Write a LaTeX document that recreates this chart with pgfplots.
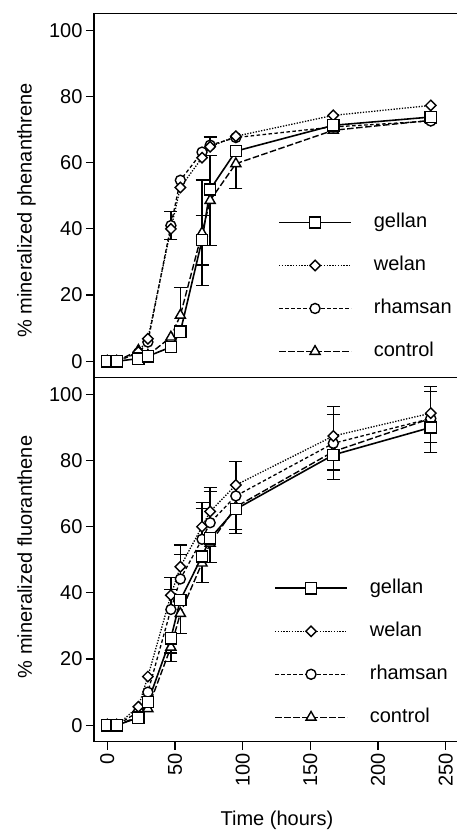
\documentclass[border=0pt]{standalone}
\usepackage{pgfplots}
\pgfplotsset{compat=1.18}
\usepackage{pgfplotstable}
\usepackage{fontspec}
\setmainfont{Liberation Sans}

% phenanthrene (top panel)
\pgfplotstableread{
t y
0 0
7 0
23 0.8
30 1.5
47 4.3
54 8.9
70 36.6
76 51.9
95 63.5
167 71.3
239 73.8
}\phgellan
\pgfplotstableread{
t y
0 0
7 0
23 2.8
30 6.8
47 40.0
54 52.5
70 61.5
76 64.8
95 68.0
167 74.3
239 77.3
}\phwelan
\pgfplotstableread{
t y
0 0
7 0
23 2.5
30 5.8
47 41.0
54 54.7
70 63.2
76 65.3
95 67.6
167 70.8
239 72.6
}\phrhamsan
\pgfplotstableread{
t y
0 0
7 0
23 3.3
30 1.8
47 7.3
54 13.9
70 38.8
76 48.6
95 59.7
167 69.8
239 72.8
}\phcontrol
\pgfplotstableread{
t y e
47 41.0 4.2
54 13.9 8.4
70 36.6 7.5
70 38.8 16
76 51.9 10.3
76 65.3 2.5
}\pherrup
\pgfplotstableread{
t y e
47 41.0 4.2
70 36.6 7.5
70 38.8 16
76 48.6 13.6
95 59.7 7.5
}\pherrdown

% fluoranthene (bottom panel)
\pgfplotstableread{
t y
0 0
7 0
23 2.3
30 7.0
47 26.3
54 37.9
70 51.0
76 56.5
95 65.3
167 81.7
239 90.0
}\flgellan
\pgfplotstableread{
t y
0 0
7 0
23 5.6
30 14.7
47 39.3
54 47.9
70 60.0
76 64.6
95 72.6
167 87.4
239 94.3
}\flwelan
\pgfplotstableread{
t y
0 0
7 0
23 4.1
30 10.0
47 35.0
54 44.2
70 56.2
76 61.2
95 69.3
167 85.2
239 92.7
}\flrhamsan
\pgfplotstableread{
t y
0 0
7 0
23 2.6
30 5.0
47 23.6
54 33.8
70 49.0
76 55.0
95 66.0
167 82.7
239 92.7
}\flcontrol
\pgfplotstableread{
t y e
47 39.3 5.4
47 35.0 6.0
54 47.9 6.6
54 44.2 7.3
70 60.0 7.3
70 56.2 9.4
76 64.6 7.3
76 61.2 9.4
95 72.6 7.2
95 69.3 10.4
167 87.4 9.0
167 85.2 8.8
239 94.3 8.0
239 92.7 8.1
}\flerrup
\pgfplotstableread{
t y e
47 26.3 4.5
47 23.6 4.4
54 33.8 6.0
70 51.0 7.9
76 56.5 7.4
95 65.3 7.3
95 66.0 6.8
167 81.7 7.4
167 82.7 5.6
239 90.0 7.6
239 92.7 7.3
}\flerrdown

\newcommand{\bigfont}{\fontsize{20}{24}\selectfont}

\pgfplotsset{
  panel/.style={
    scale only axis, width=365.2pt, height=364pt,
    xmin=-9.8, xmax=260, ymin=-5, ymax=105,
    ytick={0,20,...,100},
    tick align=outside, tick pos=left,
    major tick length=8pt,
    every tick/.style={black, line width=1.2pt},
    axis line style={line width=1.3pt},
    tick label style={font=\bigfont},
    label style={font=\bigfont},
    /pgf/number format/assume math mode=true,
    reverse legend,
    legend cell align=left,
    legend image code/.code={
      \draw[mark repeat=2, mark phase=2, ##1] plot coordinates {(0pt,0pt) (36pt,0pt) (72pt,0pt)};
    },
    legend style={draw=none, fill=none, font=\bigfont, inner sep=0pt, row sep=25pt,
      nodes={inner sep=0pt, text height=14pt, text depth=4pt},
      /tikz/every odd column/.append style={column sep=22pt}},
  },
  gellanS/.style={black, solid, line width=1.6pt, mark=square*, mark size=5.6pt,
    mark options={solid, fill=white, line width=1.4pt}},
  welanS/.style={black, line width=1.3pt, dash pattern=on 1.3pt off 1.5pt, mark=square*, mark size=3.7pt,
    mark options={solid, rotate=45, fill=white, line width=1.4pt}},
  rhamsanS/.style={black, line width=1.3pt, dash pattern=on 3.5pt off 2.5pt, mark=*, mark size=5pt,
    mark options={solid, fill=white, line width=1.4pt}},
  controlS/.style={black, line width=1.4pt, dash pattern=on 6.5pt off 2.5pt, mark=triangle*, mark size=5.8pt,
    mark options={solid, fill=white, line width=1.4pt}},
  errS/.style={forget plot, draw=none, mark=none,
    error bars/.cd, y explicit, y dir=#1,
    error bar style={draw=black, solid, line width=1.3pt},
    error mark options={draw=black, solid, rotate=90, mark size=6.5pt, line width=1.3pt}},
}

\begin{document}
\begin{tikzpicture}
\useasboundingbox (0,0) rectangle (457pt,830pt);

\begin{axis}[panel,
    at={(94pt,452.2pt)}, anchor=south west,
    xtick=\empty,
    ylabel={\% mineralized phenanthrene},
    ylabel style={at={(rel axis cs:-0.185,0.46)}, anchor=center},
    legend style={at={(rel axis cs:0.504,0.452)}, anchor=north west},
  ]
\addplot[errS=plus] table[x=t, y=y, y error=e] {\pherrup};
\addplot[errS=minus] table[x=t, y=y, y error=e] {\pherrdown};
\addplot[controlS] table[x=t, y=y] {\phcontrol};
\addplot[rhamsanS] table[x=t, y=y] {\phrhamsan};
\addplot[welanS] table[x=t, y=y] {\phwelan};
\addplot[gellanS] table[x=t, y=y] {\phgellan};
\legend{control, rhamsan, welan, gellan}
\end{axis}

\begin{axis}[panel,
    at={(94pt,88.2pt)}, anchor=south west,
    xtick={0,50,...,250},
    xticklabel style={rotate=90, anchor=east},
    xlabel={Time (hours)},
    xlabel style={at={(rel axis cs:0.501,-0.215)}, anchor=center},
    ylabel={\% mineralized fluoranthene},
    ylabel style={at={(rel axis cs:-0.19,0.508)}, anchor=center},
    legend style={at={(rel axis cs:0.493,0.447)}, anchor=north west},
  ]
\addplot[errS=plus] table[x=t, y=y, y error=e] {\flerrup};
\addplot[errS=minus] table[x=t, y=y, y error=e] {\flerrdown};
\addplot[controlS] table[x=t, y=y] {\flcontrol};
\addplot[rhamsanS] table[x=t, y=y] {\flrhamsan};
\addplot[welanS] table[x=t, y=y] {\flwelan};
\addplot[gellanS] table[x=t, y=y] {\flgellan};
\legend{control, rhamsan, welan, gellan}
\end{axis}
\end{tikzpicture}
\end{document}
